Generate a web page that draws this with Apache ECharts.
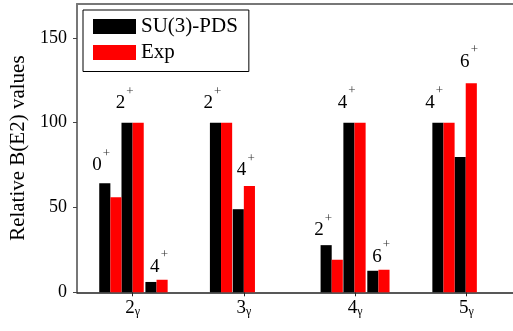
<!DOCTYPE html>
<html>
<head>
<meta charset="utf-8">
<script src="https://cdn.jsdelivr.net/npm/echarts@6/dist/echarts.min.js"></script>
<style>html,body{margin:0;padding:0;background:#fff}#c{width:513px;height:331px}</style>
</head>
<body>
<div id="c"></div>
<script>
// Category tick labels (band index, subscript gamma)
const categories = ['2', '3', '4', '5'];
const categoryX = [2, 3, 4, 5];
// Bar positions (x of the SU(3)-PDS bar in each pair; Exp bar sits next to it)
const barX = [1.75, 1.95, 2.165, 2.745, 2.95, 3.74, 3.945, 4.16, 4.745, 4.945];
const pdsValues = [64.3, 100, 6.1, 100, 49, 27.8, 100, 12.7, 100, 79.8];
const expValues = [56, 100, 7.4, 100, 62.7, 19.2, 100, 13.3, 100, 123.3];
// Spin labels (J^+) and their anchor points in data units
const stateLabels = ['0', '2', '4', '2', '4', '2', '4', '6', '4', '6'];
const labelX = [1.68, 1.89, 2.2, 2.68, 2.98, 3.676, 3.886, 4.197, 4.674, 4.987];
const labelY = [74.9, 111.4, 14.9, 111.4, 71.9, 36.6, 111.9, 20.8, 111.9, 136];
const yTicks = [0, 50, 100, 150];

const FONT = '"Liberation Serif", "Times New Roman", serif';
const HALF = 0.05;

function barRender(params, api) {
  const x = api.value(0), y = api.value(1);
  const p0 = api.coord([x - HALF, y]);
  const p1 = api.coord([x + HALF, 0]);
  return {
    type: 'rect',
    shape: { x: p0[0], y: p0[1], width: p1[0] - p0[0], height: p1[1] - p0[1] },
    style: { fill: api.visual('color') }
  };
}

function labelRender(params, api) {
  const p = api.coord([api.value(0), api.value(1)]);
  const t = stateLabels[params.dataIndex];
  return {
    type: 'group',
    children: [
      { type: 'text', x: p[0], y: p[1], style: { text: t, font: '19px ' + FONT, fill: '#000', align: 'center', verticalAlign: 'middle' } },
      { type: 'text', x: p[0] + 9.5, y: p[1] - 12, style: { text: '+', font: '13px ' + FONT, fill: '#333', align: 'center', verticalAlign: 'middle' } }
    ]
  };
}

const chart = echarts.init(document.getElementById('c'), null, { renderer: 'canvas' });
const option = {
  animation: false,
  textStyle: { fontFamily: FONT },
  grid: { left: 77, right: -2, top: 4, bottom: 38.7, containLabel: false },
  legend: {
    orient: 'vertical', left: 83, top: 10,
    padding: [3.5, 11, 6, 10],
    itemWidth: 43, itemHeight: 15, itemGap: 0,
    borderColor: '#000', borderWidth: 1,
    textStyle: { fontFamily: FONT, fontSize: 21, color: '#000', lineHeight: 26 },
    data: [{ name: 'SU(3)-PDS', icon: 'rect' }, { name: 'Exp', icon: 'rect' }]
  },
  xAxis: [{
    type: 'value', min: 1.5, max: 5.42,
    splitLine: { show: false },
    axisLine: { show: true, onZero: false, lineStyle: { color: '#222', width: 1.5 } },
    axisTick: { show: true, length: 4, inside: false, customValues: categoryX, lineStyle: { color: '#222' } },
    axisLabel: {
      customValues: categoryX, margin: 6,
      formatter: v => '{n|' + categories[categoryX.indexOf(v)] + '}{s|γ}',
      rich: {
        n: { fontFamily: FONT, fontSize: 19, color: '#000', lineHeight: 20, verticalAlign: 'top' },
        s: { fontFamily: FONT, fontSize: 12, color: '#000', lineHeight: 12, padding: [13, 0, 0, 0], verticalAlign: 'bottom' }
      }
    }
  }, {
    type: 'value', position: 'top', min: 1.5, max: 5.42,
    splitLine: { show: false },
    axisLine: { show: true, onZero: false, lineStyle: { color: '#777', width: 2 } },
    axisTick: { show: false }, axisLabel: { show: false }
  }],
  yAxis: {
    type: 'value', min: 0, max: 170, interval: 50,
    name: 'Relative B(E2) values', nameLocation: 'middle', nameGap: 48,
    nameTextStyle: { fontFamily: FONT, fontSize: 21, color: '#000' },
    splitLine: { show: false },
    axisLine: { show: true, lineStyle: { color: '#777', width: 2 } },
    axisTick: { show: true, length: 4, customValues: yTicks, lineStyle: { color: '#444' } },
    axisLabel: { customValues: yTicks, margin: 10, fontFamily: FONT, fontSize: 18, color: '#000' }
  },
  series: [
    {
      name: 'SU(3)-PDS', type: 'custom', renderItem: barRender,
      itemStyle: { color: '#000000' },
      encode: { x: 0, y: 1 },
      data: barX.map((x, i) => [x, pdsValues[i]])
    },
    {
      name: 'Exp', type: 'custom', renderItem: barRender,
      itemStyle: { color: '#ff0000' },
      encode: { x: 0, y: 1 },
      data: barX.map((x, i) => [x + 0.1, expValues[i]])
    },
    {
      name: 'labels', type: 'custom', renderItem: labelRender,
      encode: { x: 0, y: 1 }, silent: true,
      data: labelX.map((x, i) => [x, labelY[i]])
    }
  ]
};
chart.setOption(option);
</script>
</body>
</html>
